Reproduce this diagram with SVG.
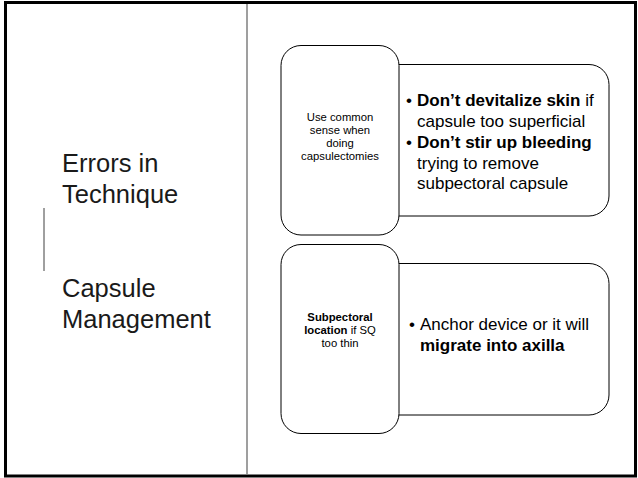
<svg xmlns="http://www.w3.org/2000/svg" width="638" height="478" viewBox="0 0 638 478">
<style>
.title{font-family:"Liberation Sans",Arial,sans-serif;font-size:25.5px;fill:#1a1a1a;}
.small{font-family:"Liberation Sans",Arial,sans-serif;font-size:11.3px;fill:#000;text-anchor:middle;}
.big{font-family:"Liberation Sans",Arial,sans-serif;font-size:17px;fill:#000;}
.box{fill:#fff;stroke:#000;stroke-width:1;}
.b{font-weight:bold;}
</style>
<rect x="0" y="0" width="638" height="478" fill="#fff"/>
<rect x="5.5" y="2.5" width="630" height="473.5" fill="none" stroke="#000" stroke-width="3"/>
<line x1="247" y1="4" x2="247" y2="475" stroke="#7f7f7f" stroke-width="1.5"/>
<line x1="44" y1="208" x2="44" y2="271" stroke="#404040" stroke-width="1"/>
<g id="titles">
<text class="title" x="62" y="172">Errors in</text>
<text class="title" x="62" y="203">Technique</text>
<text class="title" x="62" y="297">Capsule</text>
<text class="title" x="62" y="328">Management</text>
</g>
<g id="node1-detail">
<rect class="box" x="370" y="64.5" width="239" height="151.5" rx="20"/>
<text class="big"><tspan x="406" y="106">•</tspan><tspan x="417" y="106" class="b">Don’t devitalize skin</tspan><tspan> if</tspan></text>
<text class="big" x="417" y="127">capsule too superficial</text>
<text class="big"><tspan x="406" y="148">•</tspan><tspan x="417" y="148" class="b">Don’t stir up bleeding</tspan></text>
<text class="big" x="417" y="169">trying to remove</text>
<text class="big" x="417" y="189">subpectoral capsule</text>
</g>
<g id="node1">
<rect class="box" x="281" y="45.5" width="118" height="189.5" rx="20"/>
<text class="small" x="340" y="121">Use common</text>
<text class="small" x="340" y="134">sense when</text>
<text class="small" x="340" y="147">doing</text>
<text class="small" x="340" y="160">capsulectomies</text>
</g>
<g id="node2-detail">
<rect class="box" x="370" y="263.5" width="239" height="151.5" rx="20"/>
<text class="big"><tspan x="409" y="330">•</tspan><tspan x="420" y="330">Anchor device or it will</tspan></text>
<text class="big b" x="420" y="351">migrate into axilla</text>
</g>
<g id="node2">
<rect class="box" x="281" y="244.5" width="118" height="189" rx="20"/>
<text class="small"><tspan x="340" y="321" class="b">Subpectoral</tspan></text>
<text class="small" x="340" y="334"><tspan class="b">location</tspan> if SQ</text>
<text class="small" x="340" y="347">too thin</text>
</g>
<g id="connectors"></g>
</svg>
